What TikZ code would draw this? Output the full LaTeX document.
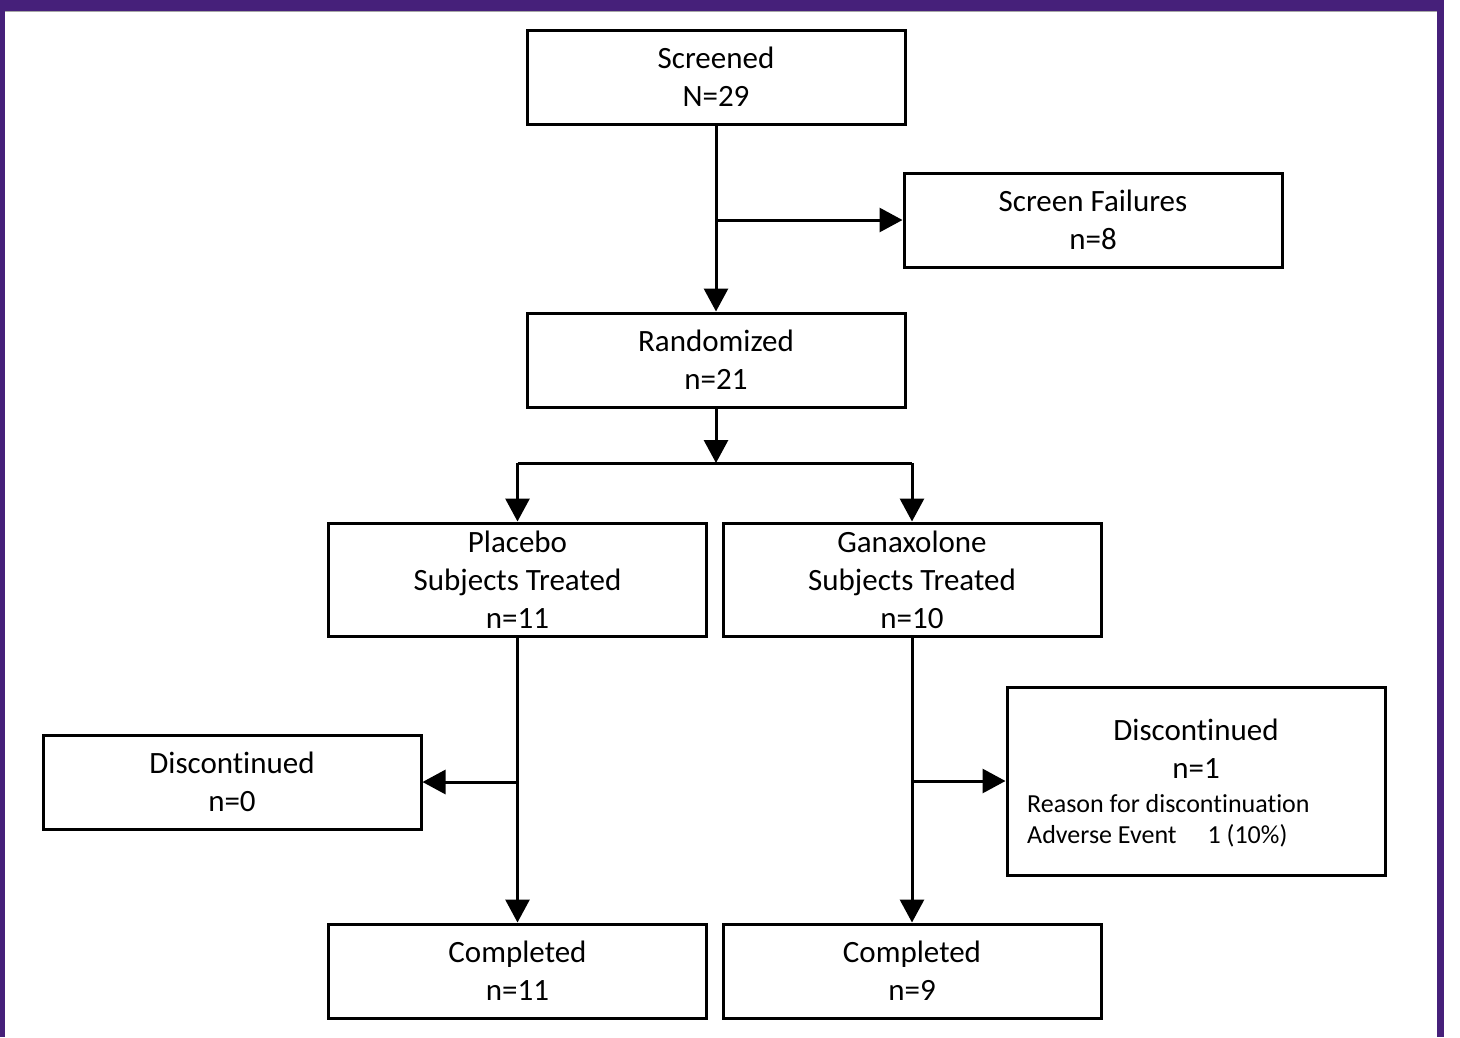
\documentclass[tikz,border=0pt]{standalone}
\usepackage{fontspec}
\setmainfont{Carlito}[RawFeature=-liga]
\usetikzlibrary{arrows.meta}
\definecolor{frame}{RGB}{70,32,122}
\begin{document}
\begin{tikzpicture}[x=1pt,y=-1pt,
  box/.style={draw,line width=3pt,minimum width=378pt,minimum height=94pt,inner sep=0pt,align=center,
    font=\fontsize{31}{38}\selectfont},
  conn/.style={line width=3pt},
  arr/.style={line width=3pt,-{Triangle[length=23pt,width=24pt]}},
  big/.style={font=\fontsize{31}{38}\selectfont,inner sep=0pt,anchor=base},
  small/.style={font=\fontsize{26}{31}\selectfont,anchor=base west,inner sep=0pt}]
\useasboundingbox (0,0) rectangle (1460,1037);
\fill[white] (0,0) rectangle (1460,1037);
\fill[frame] (0,0) rectangle (1444,11);
\fill[frame] (0,0) rectangle (5,1037);
\fill[frame] (1437,0) rectangle (1444,1037);
\draw[gray!70,line width=1pt] (5,11.5) -- (1437,11.5);
\node[box] (scr) at (716,77) {Screened\\N=29};
\node[box] (sf) at (1093,220) {Screen Failures\\n=8};
\node[box] (rand) at (716,360) {Randomized\\n=21};
\node[box,minimum height=113pt] (pl) at (517.5,579.5) {Placebo\\Subjects Treated\\n=11};
\node[box,minimum height=113pt] (gx) at (912,579.5) {Ganaxolone\\Subjects Treated\\n=10};
\node[box] (dl) at (232,782) {Discontinued\\n=0};
\node[box,minimum height=188pt] (dr) at (1196,781) {};
\node[box] (cl) at (517.5,971) {Completed\\n=11};
\node[box] (cr) at (912,971) {Completed\\n=9};
\node[big] (drt1) at (1196,740) {Discontinued};
\node[big] (drt2) at (1196,778) {n=1};
\node[small] (drt3) at (1027,812) {Reason for discontinuation};
\node[small] (drt4) at (1027,843) {Adverse Event\hspace{31pt}1 (10\%)};
\coordinate (b1) at (scr.south |- sf.west);
\draw[arr] (scr) -- (rand);
\draw[arr] (b1) -- (sf);
\coordinate (j) at (716,463);
\draw[arr] (rand) -- (j);
\draw[conn] (pl.north |- j) -- (gx.north |- j);
\draw[arr] (pl.north |- j) -- (pl);
\draw[arr] (gx.north |- j) -- (gx);
\draw[arr] (pl) -- (cl);
\draw[arr] (gx) -- (cr);
\coordinate (b2) at (pl.south |- dl.east);
\coordinate (b3) at (gx.south |- dr.west);
\draw[arr] (b2) -- (dl);
\draw[arr] (b3) -- (dr);
\end{tikzpicture}
\end{document}
